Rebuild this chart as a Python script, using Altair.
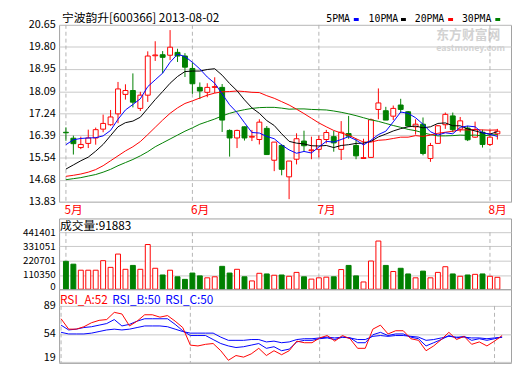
import altair as alt
import pandas as pd

stock_title = "宁波韵升[600366] 2013-08-02"

opens = [16.51, 16.28, 15.92, 16.08, 16.29, 16.63, 16.80, 17.22, 17.97, 18.12,
         17.43, 17.94, 19.46, 19.50, 19.48, 19.59, 19.45, 18.97, 18.24, 18.05,
         18.24, 18.24, 16.58, 16.29, 16.72, 16.32, 16.23, 16.66, 15.43, 16.00,
         14.79, 15.47, 16.17, 15.80, 15.85, 16.23, 16.34, 15.85, 16.46, 16.00,
         15.50, 15.54, 17.39, 17.34, 17.13, 17.56, 17.30, 16.72, 16.82, 15.50,
         16.08, 16.80, 17.14, 16.63, 16.67, 16.32, 16.51, 16.04, 16.45]
closes = [16.49, 16.07, 16.04, 16.29, 16.61, 16.85, 17.10, 18.18, 18.12, 17.67,
          17.94, 19.45, 19.49, 19.40, 19.79, 19.45, 19.02, 18.38, 18.10, 18.24,
          18.27, 16.98, 16.29, 16.58, 16.29, 16.35, 16.90, 15.65, 16.13, 15.08,
          15.40, 16.26, 15.99, 15.83, 16.23, 16.50, 16.10, 16.51, 16.36, 15.60,
          15.53, 16.99, 17.64, 16.98, 17.43, 17.39, 16.75, 16.82, 15.69, 16.00,
          16.76, 17.20, 16.61, 16.95, 16.22, 16.61, 16.04, 16.32, 16.55]
highs = [16.70, 16.38, 16.34, 16.61, 16.69, 17.19, 17.37, 18.45, 18.36, 18.78,
         18.07, 19.63, 20.02, 19.64, 20.45, 19.73, 19.56, 19.20, 18.43, 18.40,
         18.63, 18.37, 16.62, 16.61, 16.73, 16.60, 17.01, 16.75, 16.13, 16.05,
         15.40, 16.47, 16.57, 16.34, 16.38, 16.60, 16.56, 16.94, 17.14, 16.26,
         16.26, 17.04, 18.20, 17.49, 17.54, 17.80, 17.33, 17.01, 17.08, 16.10,
         16.79, 17.27, 17.27, 17.10, 16.76, 16.92, 16.61, 16.61, 16.64]
lows = [16.18, 15.65, 15.86, 15.90, 16.03, 16.51, 16.76, 16.86, 17.77, 17.47,
        17.33, 17.68, 19.26, 18.78, 19.29, 19.22, 18.64, 17.99, 17.79, 17.86,
        18.02, 16.52, 15.57, 15.90, 16.19, 16.17, 16.04, 15.65, 15.01, 14.85,
        13.93, 15.27, 15.78, 15.47, 15.54, 16.08, 15.76, 15.44, 16.26, 15.47,
        15.50, 15.54, 17.01, 16.98, 16.98, 17.25, 16.72, 16.42, 15.62, 15.37,
        16.08, 16.64, 16.51, 16.51, 16.17, 16.29, 15.92, 15.98, 16.23]
volumes = [215800, 193700, 147000, 147000, 147000, 220700, 169000, 272000, 154000, 184000,
           154000, 346000, 162000, 110000, 147000, 96000, 76000, 125000, 103000, 88000,
           96000, 177000, 125000, 154000, 96000, 64000, 123000, 118000, 108000, 110000,
           100000, 130000, 96000, 78000, 88000, 93000, 96000, 152000, 184000, 103000,
           56000, 218000, 373000, 184000, 137000, 162000, 118000, 88000, 140000, 88000,
           130000, 174000, 118000, 100000, 110000, 115000, 118000, 100000, 91883]
ma5 = [16.03, 16.22, 16.27, 16.29, 16.30, 16.37, 16.58, 17.01, 17.37, 17.58,
       17.80, 18.27, 18.53, 18.79, 19.21, 19.52, 19.43, 19.21, 18.95, 18.64,
       18.40, 17.99, 17.57, 17.27, 16.88, 16.50, 16.48, 16.35, 16.26, 16.02,
       15.83, 15.70, 15.77, 15.71, 15.94, 16.16, 16.13, 16.23, 16.34, 16.21,
       16.02, 16.20, 16.42, 16.55, 16.91, 17.29, 17.24, 17.07, 16.82, 16.53,
       16.40, 16.49, 16.45, 16.70, 16.75, 16.72, 16.49, 16.43, 16.35]
ma10 = [15.09, 15.25, 15.41, 15.55, 15.78, 16.04, 16.38, 16.72, 16.88, 16.94,
        17.09, 17.43, 17.77, 18.08, 18.40, 18.66, 18.85, 18.87, 18.87, 18.93,
        18.96, 18.71, 18.39, 18.11, 17.76, 17.45, 17.24, 16.96, 16.77, 16.45,
        16.16, 16.09, 16.06, 15.99, 15.98, 16.00, 15.92, 16.00, 16.03, 16.08,
        16.09, 16.16, 16.33, 16.44, 16.56, 16.65, 16.72, 16.75, 16.68, 16.72,
        16.85, 16.87, 16.76, 16.76, 16.64, 16.56, 16.49, 16.44, 16.53]
ma20 = [14.81, 14.85, 14.90, 14.97, 15.07, 15.22, 15.41, 15.60, 15.79, 15.95,
        16.15, 16.42, 16.70, 16.98, 17.24, 17.45, 17.62, 17.72, 17.83, 17.94,
        18.02, 18.07, 18.08, 18.10, 18.08, 18.05, 18.04, 17.92, 17.82, 17.69,
        17.56, 17.40, 17.23, 17.05, 16.87, 16.72, 16.58, 16.48, 16.40, 16.26,
        16.13, 16.13, 16.20, 16.22, 16.27, 16.32, 16.32, 16.38, 16.35, 16.40,
        16.47, 16.51, 16.55, 16.60, 16.60, 16.61, 16.60, 16.59, 16.60]
ma30 = [14.68, 14.72, 14.76, 14.82, 14.88, 14.97, 15.08, 15.22, 15.34, 15.46,
        15.60, 15.76, 15.95, 16.10, 16.25, 16.40, 16.55, 16.68, 16.82, 16.92,
        17.02, 17.14, 17.24, 17.32, 17.38, 17.43, 17.46, 17.47, 17.47, 17.44,
        17.40, 17.41, 17.41, 17.39, 17.38, 17.37, 17.33, 17.28, 17.22, 17.15,
        17.07, 16.99, 16.93, 16.85, 16.77, 16.70, 16.62, 16.57, 16.49, 16.42,
        16.37, 16.37, 16.38, 16.40, 16.39, 16.40, 16.37, 16.40, 16.42]
rsi_a = [73, 60, 60, 63, 68, 71, 72, 81, 79, 64, 70, 78, 78, 75, 77, 70, 62, 40, 39, 41,
         42, 33, 21, 27, 25, 29, 36, 27, 33, 28, 33, 45, 43, 43, 49, 52, 45, 52, 48, 36,
         36, 60, 65, 54, 58, 58, 48, 46, 33, 39, 47, 56, 47, 51, 41, 44, 39, 45, 52]
rsi_b = [65, 59, 60, 62, 63, 65, 67, 72, 64, 66, 70, 73, 73, 73, 73, 66, 58, 52, 52, 52,
         47, 42, 39, 37, 38, 40, 42, 36, 38, 33, 35, 44, 46, 46, 48, 49, 47, 50, 49, 43,
         43, 53, 56, 52, 54, 54, 50, 48, 39, 43, 47, 52, 49, 51, 46, 48, 46, 48, 50]
rsi_c = [56, 54, 54, 54, 55, 57, 59, 60, 59, 60, 62, 64, 64, 64, 63, 60, 57, 55, 55, 55,
         55, 50, 46, 46, 46, 47, 47, 44, 45, 43, 44, 47, 48, 48, 49, 50, 49, 50, 49, 47,
         47, 51, 52, 51, 52, 52, 51, 50, 46, 47, 49, 51, 50, 50, 49, 49, 48, 49, 50]

month_pos = [0, 17, 34, 57]
month_labels = ["5月", "6月", "7月", "8月"]
price_ticks = [13.83, 14.68, 15.54, 16.39, 17.24, 18.09, 18.95, 19.80, 20.65]
vol_ticks = [0, 110350, 220701, 331051, 441401]
rsi_ticks = [19, 54, 89]
ma_names = ["5PMA", "10PMA", "20PMA", "30PMA"]

# ---------------------------------------------------------------- layout/style
FONT = "Noto Sans CJK SC"
MONO = "DejaVu Sans Mono"
W, H_MAIN, H_VOL, H_RSI = 460, 180, 72, 75
RED, GREEN, BLUE, BLACK = "#ff0000", "#008000", "#0000ff", "#000000"
GRID, DASH = "#c8c8c8", "#b4b4b4"

n = len(closes)
df = pd.DataFrame({
    "i": list(range(n)), "open": opens, "high": highs, "low": lows, "close": closes,
    "vol": volumes, "MA5": ma5, "MA10": ma10, "MA20": ma20, "MA30": ma30,
    "RSI_A": rsi_a, "RSI_B": rsi_b, "RSI_C": rsi_c,
})
months = pd.DataFrame({"pos": month_pos, "label": month_labels})

xscale = alt.Scale(domain=[-0.26, 59.17], nice=False, zero=False)
label_expr = "{" + ",".join(f"'{p}':'{l}'" for p, l in zip(month_pos, month_labels)) + "}[datum.value]"
x_axis_main = alt.Axis(values=month_pos, labelExpr=label_expr, grid=False, domain=False, ticks=False,
                       labelColor=RED, labelAlign="left", labelBaseline="top", labelPadding=3,
                       labelFontSize=12, labelFont=FONT, labelFlush=False, labelOverlap=False,
                       labelOffset=-2, title=None)


def xenc(field, axis):
    return alt.X(f"{field}:Q", scale=xscale, axis=axis, title=None)


def yaxis(values, fmt, bottom_flush=False, size=11, bottom_offset=1):
    kw = {}
    if bottom_flush:
        kw["labelBaseline"] = {"condition": {"test": f"datum.value <= {values[0]}", "value": "bottom"},
                               "value": "middle"}
        kw["labelOffset"] = {"condition": {"test": f"datum.value <= {values[0]}", "value": bottom_offset},
                             "value": 0}
    return alt.Axis(values=values, format=fmt, grid=True, gridColor=GRID, gridWidth=1,
                    domain=False, ticks=False, labelPadding=4, minExtent=51, maxExtent=51,
                    labelFontSize=size, labelFont=FONT, labelColor=BLACK, labelOverlap=False,
                    labelFlush=False, title=None, **kw)


def text_layer(txt, x, y, color=BLACK, size=12, align="left", baseline="middle", weight="normal", font=FONT):
    return alt.Chart(pd.DataFrame({"t": [txt]})).mark_text(
        align=align, baseline=baseline, fontSize=size, font=font, color=color, fontWeight=weight
    ).encode(x=alt.value(x), y=alt.value(y), text="t:N")


base = alt.Chart(df)
up = base.transform_filter("datum.close >= datum.open")
down = base.transform_filter("datum.close < datum.open")

# ---------------------------------------------------------------- main panel
ys_main = alt.Scale(domain=[price_ticks[0], price_ticks[-1]], nice=False, zero=False)
pax = yaxis(price_ticks, ".2f")


def py(field):
    return alt.Y(f"{field}:Q", scale=ys_main, axis=pax, title=None)


main_layers = [
    text_layer("东方财富网", 384, 10, color="#d2d2d2", size=13, weight="bold"),
    text_layer("eastmoney.com", 384, 24, color="#d2d2d2", size=9, weight="bold"),
    alt.Chart(months).mark_rule(color=DASH, strokeDash=[4, 3]).encode(
        x=xenc("pos", x_axis_main), y=alt.value(0), y2=alt.value(H_MAIN)),
    up.mark_rule(color=RED, strokeWidth=1).encode(x=xenc("i", x_axis_main), y=py("low"), y2="high:Q"),
    down.mark_rule(color=GREEN, strokeWidth=1).encode(x=xenc("i", x_axis_main), y=py("low"), y2="high:Q"),
    up.mark_bar(size=5, fill="#ffffff", stroke=RED, strokeWidth=1).encode(
        x=xenc("i", x_axis_main), y=py("open"), y2="close:Q"),
    down.mark_bar(size=5, fill=GREEN, stroke=GREEN, strokeWidth=1).encode(
        x=xenc("i", x_axis_main), y=py("open"), y2="close:Q"),
]
for col, colr in zip(["MA30", "MA20", "MA10", "MA5"], [GREEN, RED, BLACK, BLUE]):
    main_layers.append(base.mark_line(color=colr, strokeWidth=1).encode(x=xenc("i", x_axis_main), y=py(col)))

main_layers.append(text_layer(stock_title, 3, -12, baseline="top", size=12))
leg_text_x = [272, 315, 362, 410]
leg_mark_x = [300, 348, 396, 444]
for name, colr, tx, mx in zip(ma_names, [BLUE, BLACK, RED, GREEN], leg_text_x, leg_mark_x):
    main_layers.append(text_layer(name, tx, -6, size=10, font=MONO))
    main_layers.append(alt.Chart(pd.DataFrame({"a": [0]})).mark_rule(color=colr, strokeWidth=3).encode(
        x=alt.value(mx), x2=alt.value(mx + 5), y=alt.value(-5.5)))

main = alt.layer(*main_layers).properties(width=W, height=H_MAIN)

# ---------------------------------------------------------------- volume panel
ys_vol = alt.Scale(domain=[0, vol_ticks[-1] * H_VOL / 58], nice=False, zero=True)
vax = yaxis(vol_ticks, "d", bottom_flush=True, size=10, bottom_offset=2)


def vy(field):
    return alt.Y(f"{field}:Q", scale=ys_vol, axis=vax, title=None)


vol = alt.layer(
    alt.Chart(months).mark_rule(color=DASH, strokeDash=[4, 3]).encode(
        x=xenc("pos", None), y=alt.datum(vol_ticks[-1], scale=ys_vol, axis=vax), y2=alt.datum(0)),
    up.mark_bar(size=5, fill="#ffffff", stroke=RED, strokeWidth=1).encode(x=xenc("i", None), y=vy("vol")),
    down.mark_bar(size=5, fill=GREEN, stroke=GREEN, strokeWidth=1).encode(x=xenc("i", None), y=vy("vol")),
    text_layer(f"成交量:{volumes[-1]}", 1, 8, size=12),
).properties(width=W, height=H_VOL)

# ---------------------------------------------------------------- RSI panel
rsi_dom = [17.8, 110]
ys_rsi = alt.Scale(domain=rsi_dom, nice=False, zero=False)
rax = yaxis(rsi_ticks, "d", bottom_flush=True)

rsi_layers = [
    alt.Chart(months).mark_rule(color=DASH, strokeDash=[4, 3]).encode(
        x=xenc("pos", None), y=alt.datum(rsi_ticks[-1], scale=ys_rsi, axis=rax), y2=alt.datum(rsi_dom[0])),
]
for col, colr in zip(["RSI_C", "RSI_B", "RSI_A"], [BLUE, BLUE, RED]):
    rsi_layers.append(base.mark_line(color=colr, strokeWidth=1).encode(
        x=xenc("i", None), y=alt.Y(f"{col}:Q", scale=ys_rsi, axis=rax, title=None)))
rsi_layers += [
    text_layer(f"RSI_A:{rsi_a[-1]}", 1, 11, color=RED, size=12),
    text_layer(f"RSI_B:{rsi_b[-1]}", 54, 11, color=BLUE, size=12),
    text_layer(f"RSI_C:{rsi_c[-1]}", 108, 11, color=BLUE, size=12),
]
rsi = alt.layer(*rsi_layers).properties(width=W, height=H_RSI)

lower = alt.vconcat(vol, rsi, spacing=0, bounds="flush")
chart = (
    alt.vconcat(main, lower, spacing=17, bounds="flush")
    .properties(padding=0, background="#ffffff")
    .configure_view(stroke="#a0a0a0", strokeWidth=1)
)

chart.save("out.html", embed_options={"renderer": "svg", "actions": False})
